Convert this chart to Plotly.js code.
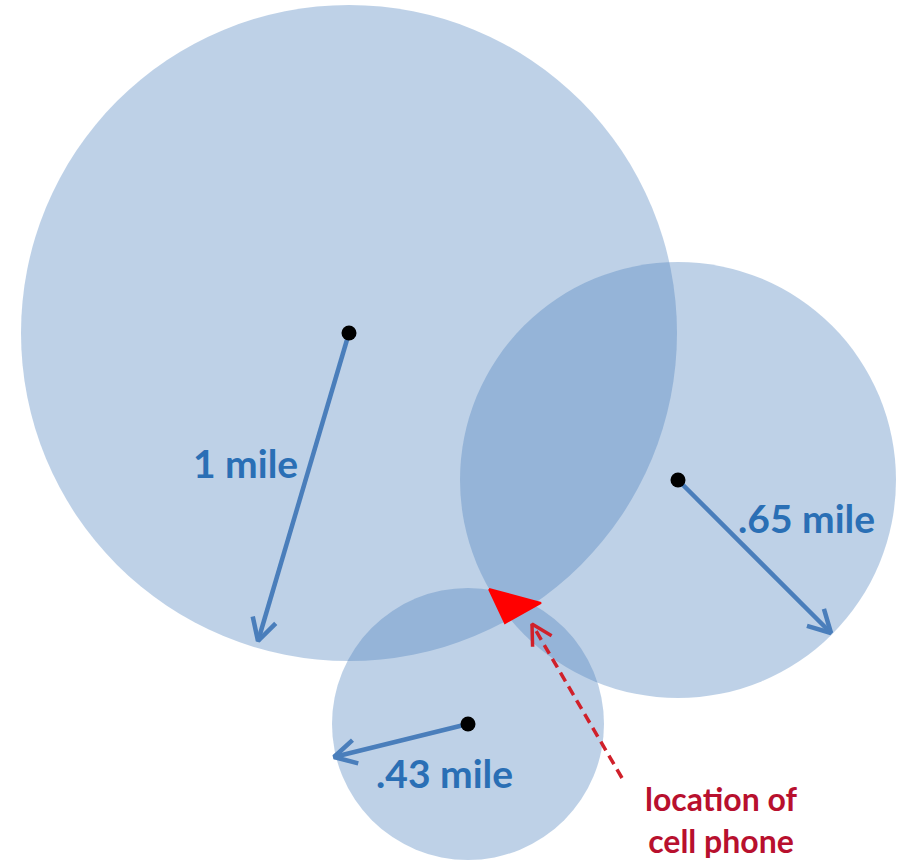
<!DOCTYPE html>
<html>
<head>
<meta charset="utf-8">
<script src="https://cdn.plot.ly/plotly-3.0.1.min.js"></script>
<style>html,body{margin:0;padding:0;background:#fff}#chart{width:900px;height:864px}</style>
</head>
<body>
<div id="chart"></div>
<script>
// Towers (circle centres) and coverage radii, in drawing units
var towerNames = ["1 mile", ".65 mile", ".43 mile"];
var towerX = [349, 678, 468];
var towerY = [333, 480, 724];
var towerR = [328, 218, 136];

// Radius arrows: start at tower, end at circle edge
var arrowEndX = [258, 831, 334];
var arrowEndY = [641, 633, 757];

// Radius labels
var labelX = [245, 806, 444];
var labelY = [463, 518, 773];

// Estimated phone location (triangle)
var phoneX = [489, 541, 505];
var phoneY = [589, 603, 623];

// Pointer arrow to the phone location
var pointerStartX = [622];
var pointerStartY = [778];
var pointerEndX = [532];
var pointerEndY = [624];
var pointerLabel = "location of<br>cell phone";
var pointerLabelX = [721];
var pointerLabelY = [819];

function vHead(x0, y0, x1, y1, L, W) {
  var dx = x1 - x0, dy = y1 - y0, len = Math.sqrt(dx*dx + dy*dy);
  var ux = dx/len, uy = dy/len, px = -uy, py = ux;
  return {
    x: [x1 - L*ux + W*px, x1, x1 - L*ux - W*px],
    y: [y1 - L*uy + W*py, y1, y1 - L*uy - W*py]
  };
}

var traces = [];
var shapes = [];
var annotations = [];
var blue = "#4a7ebb";

for (var i = 0; i < towerX.length; i++) {
  shapes.push({
    type: "circle", xref: "x", yref: "y", layer: "below",
    x0: towerX[i] - towerR[i], x1: towerX[i] + towerR[i],
    y0: towerY[i] - towerR[i], y1: towerY[i] + towerR[i],
    fillcolor: "#4F81BD", opacity: 0.37, line: {width: 0}
  });
  traces.push({
    x: [towerX[i], arrowEndX[i]], y: [towerY[i], arrowEndY[i]],
    mode: "lines", line: {color: blue, width: 4.5}, hoverinfo: "skip", showlegend: false
  });
  var h = vHead(towerX[i], towerY[i], arrowEndX[i], arrowEndY[i], 22, 12);
  traces.push({
    x: h.x, y: h.y, mode: "lines",
    line: {color: blue, width: 4.5, shape: "linear"}, hoverinfo: "skip", showlegend: false
  });
  annotations.push({
    x: labelX[i], y: labelY[i], xref: "x", yref: "y", text: towerNames[i], showarrow: false,
    font: {family: "Lato, 'Open Sans', sans-serif", size: 39, color: "#2a6fb5", weight: 700}
  });
}

// towers dots
traces.push({
  x: towerX, y: towerY, mode: "markers",
  marker: {color: "#000", size: 15}, hoverinfo: "skip", showlegend: false
});

// phone triangle
traces.push({
  x: phoneX.concat([phoneX[0]]), y: phoneY.concat([phoneY[0]]),
  mode: "lines", fill: "toself", fillcolor: "#ff0000",
  line: {color: "#ff0000", width: 2}, hoverinfo: "skip", showlegend: false
});

// dashed pointer
traces.push({
  x: [pointerStartX[0], pointerEndX[0]], y: [pointerStartY[0], pointerEndY[0]],
  mode: "lines", line: {color: "#d0202a", width: 3.5, dash: "10px,6px"},
  hoverinfo: "skip", showlegend: false
});
var ph = vHead(pointerStartX[0], pointerStartY[0], pointerEndX[0], pointerEndY[0], 20, 11);
traces.push({
  x: ph.x, y: ph.y, mode: "lines", line: {color: "#d0202a", width: 3.5},
  hoverinfo: "skip", showlegend: false
});
annotations.push({
  x: pointerLabelX[0], y: pointerLabelY[0], xref: "x", yref: "y", text: pointerLabel,
  showarrow: false, align: "center", borderpad: 0,
  font: {family: "Lato, 'Open Sans', sans-serif", size: 32, color: "#b8102e", weight: 700}
});

var layout = {
  width: 900, height: 864,
  margin: {l: 0, r: 0, t: 0, b: 0},
  paper_bgcolor: "#fff", plot_bgcolor: "#fff",
  xaxis: {range: [0, 900], visible: false, fixedrange: true},
  yaxis: {range: [864, 0], visible: false, fixedrange: true},
  shapes: shapes, annotations: annotations, showlegend: false
};

Plotly.newPlot("chart", traces, layout, {staticPlot: true, displayModeBar: false});
</script>
</body>
</html>
